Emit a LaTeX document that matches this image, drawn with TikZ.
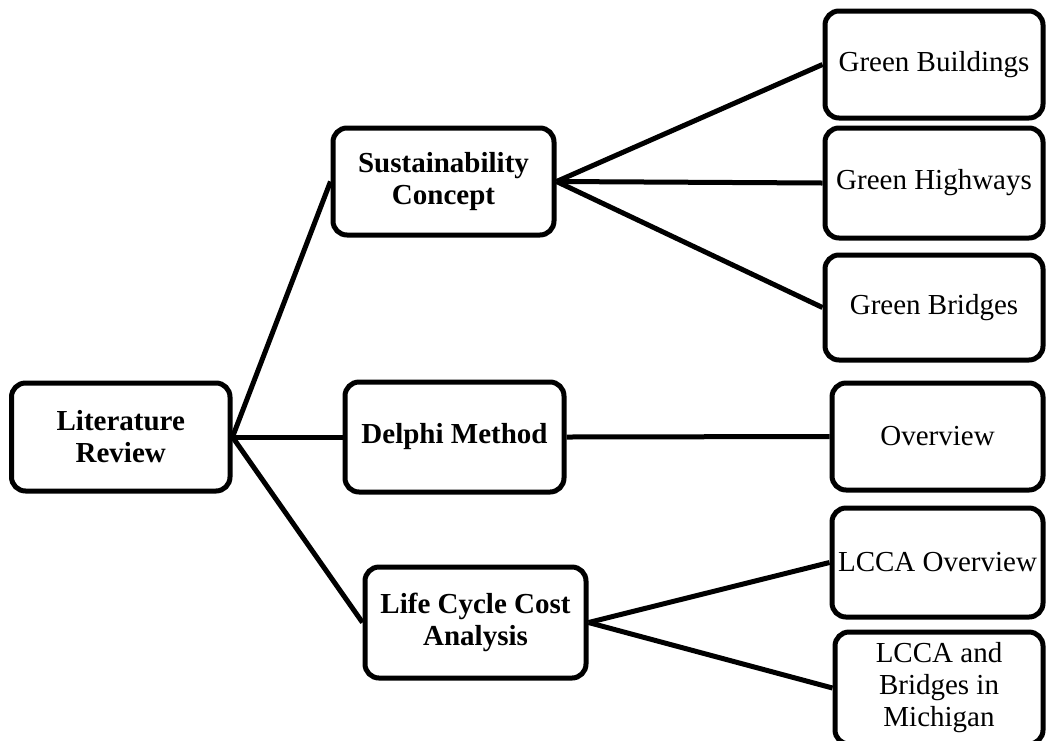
\documentclass[tikz,border=0pt]{standalone}
\usepackage{fontspec}
\setmainfont{Liberation Serif}
\usetikzlibrary{positioning}
\tikzset{
  topic/.style={draw=black, line width=5pt, rounded corners=14pt, fill=white,
    minimum height=108pt, minimum width=220pt, inner sep=0pt, align=center,
    font=\fontsize{29}{32}\selectfont\bfseries},
  leaf/.style={topic, minimum width=218pt, font=\fontsize{29}{32}\selectfont},
  link/.style={line width=5pt}
}

\begin{document}
\begin{tikzpicture}[x=1pt, y=-1pt]
  \useasboundingbox (0,0) rectangle (1046,740);
  % main branches
  \node[topic, minimum width=218.5pt] (lr) at (120.75,437) {Literature\\Review};
  \node[topic, minimum width=221pt, minimum height=107pt] (sc) at (443.5,181.5)
    {Sustainability\\Concept};
  \node[topic, minimum width=219pt, minimum height=110pt] (dm) at (454.5,437)
    {Delphi Method};
  \node[topic, minimum width=221pt, minimum height=111pt] (lc) at (475.5,622.5)
    {Life Cycle Cost\\Analysis};

  % leaves
  \node[leaf, minimum height=107pt] (gb) at (934,64.5) {Green Buildings};
  \node[leaf, minimum height=110pt] (gh) at (934,183) {Green Highways};
  \node[leaf, minimum height=105pt] (gbr) at (934,307.5) {Green Bridges};
  \node[leaf, minimum width=211pt, minimum height=107pt] (ov) at (937.5,436.5)
    {Overview};
  \node[leaf, minimum width=211pt, minimum height=109pt] (lo) at (937.5,562.5)
    {LCCA Overview};
  \node[leaf, minimum width=208pt, minimum height=112pt] (lb) at (939,688)
    {LCCA and\\Bridges in\\Michigan};

  % connectors
  \draw[link] (lr.east) -- (sc.west);
  \draw[link] (lr.east) -- (dm.west);
  \draw[link] (lr.east) -- (lc.west);
  \draw[link] (sc.east) -- (gb.west);
  \draw[link] (sc.east) -- (gh.west);
  \draw[link] (sc.east) -- (gbr.west);
  \draw[link] (dm.east) -- (ov.west);
  \draw[link] (lc.east) -- (lo.west);
  \draw[link] (lc.east) -- (lb.west);
\end{tikzpicture}
\end{document}
